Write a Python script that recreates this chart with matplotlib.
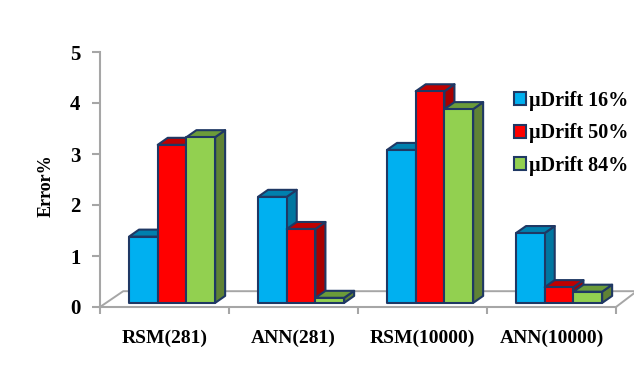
import matplotlib
matplotlib.use('Agg')
import matplotlib.pyplot as plt
from matplotlib.patches import Polygon, Patch

categories = ['RSM(281)', 'ANN(281)', 'RSM(10000)', 'ANN(10000)']
series_names = ['\u00b5Drift 16%', '\u00b5Drift 50%', '\u00b5Drift 84%']
drift16 = [1.30, 2.08, 3.00, 1.37]
drift50 = [3.10, 1.45, 4.15, 0.31]
drift84 = [3.25, 0.10, 3.80, 0.22]
y_ticks = [0, 1, 2, 3, 4, 5]

front = ['#00B0F0', '#FF0000', '#92D050']
top = ['#0080AE', '#C00000', '#6B9B3A']
side = ['#0076A0', '#A80000', '#5F8235']
edge = '#1F3864'
gray = '#A6A6A6'

plt.rcParams['font.family'] = ['Liberation Serif', 'DejaVu Serif']
plt.rcParams['font.weight'] = 'bold'

fig = plt.figure(figsize=(6.34, 3.74), dpi=100)
ax = fig.add_axes([100 / 634, 1 - 307 / 374, 516 / 634, 255 / 374])
ax.set_xlim(0, 4)
ax.set_ylim(0, 5)

# floor of the 3d box
dx = 10 / 129
dy = 7 / 51
base = 0.08
ax.plot([0, 0.18, 4.3], [0, 0.31, 0.31], color=gray, lw=1.4, clip_on=False, zorder=1)
ax.plot([4, 4.14], [0, 0.27], color=gray, lw=1.4, clip_on=False, zorder=1)

width = 0.2225
z = 3
for i in range(len(categories)):
    for j, values in enumerate([drift16, drift50, drift84]):
        x0 = i + 0.225 + j * width
        x1 = x0 + width
        y1 = base + values[i]
        style = dict(edgecolor=edge, lw=1.5, joinstyle='round', clip_on=False, zorder=z)
        ax.add_patch(Polygon([(x1, base), (x1 + dx, base + dy), (x1 + dx, y1 + dy), (x1, y1)],
                             facecolor=side[j], **style))
        ax.add_patch(Polygon([(x0, y1), (x0 + dx, y1 + dy), (x1 + dx, y1 + dy), (x1, y1)],
                             facecolor=top[j], **style))
        ax.add_patch(Polygon([(x0, base), (x0, y1), (x1, y1), (x1, base)],
                             facecolor=front[j], **style))
        z += 1

for s in ['top', 'right']:
    ax.spines[s].set_visible(False)
for s in ['left', 'bottom']:
    ax.spines[s].set_color(gray)
    ax.spines[s].set_linewidth(1.5)

ax.set_yticks(y_ticks)
ax.set_xticks(range(5))
ax.set_xticklabels([])
ax.set_xticks([i + 0.5 for i in range(4)], minor=True)
ax.set_xticklabels(categories, minor=True, fontsize=14, fontweight='bold')
ax.tick_params(axis='x', which='major', length=5, width=1.5, color=gray)
ax.tick_params(axis='x', which='minor', length=0, pad=16)
ax.tick_params(axis='y', length=6, width=1.5, color=gray, pad=8, labelsize=15)
ax.set_ylabel('Error%', fontsize=13, fontweight='bold', labelpad=11, y=0.475)

handles = [Patch(facecolor=front[k], edgecolor=edge, lw=1.5, label=series_names[k]) for k in range(3)]
ax.legend(handles=handles, loc='upper left', bbox_to_anchor=(0.802, 0.848), frameon=False,
          fontsize=14.5, handlelength=0.62, handleheight=0.62, handletextpad=0.12,
          labelspacing=0.62, borderpad=0, borderaxespad=0)

fig.savefig('out.png', dpi=100)
